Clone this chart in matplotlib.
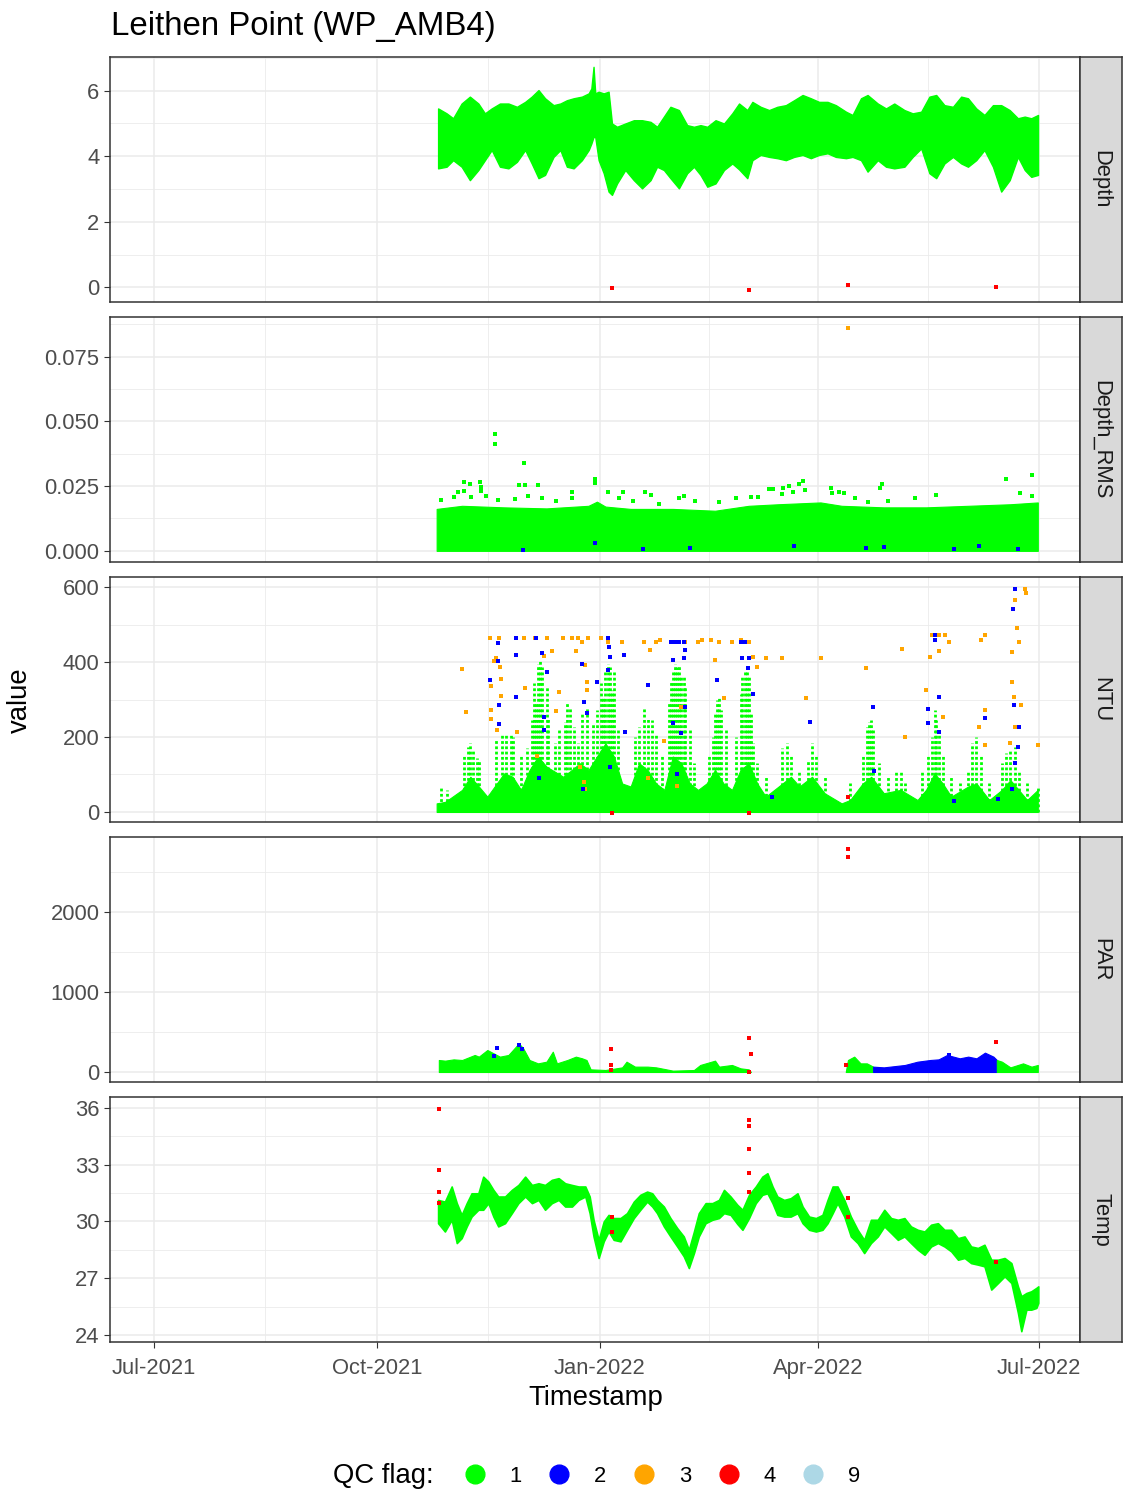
import numpy as np
import matplotlib
matplotlib.use("Agg")
import matplotlib.pyplot as plt
import matplotlib.dates as mdates
from matplotlib.lines import Line2D

plt.rcParams['font.family'] = ['Liberation Sans', 'DejaVu Sans']

# ---------------- data (x = days since 2021-10-01) ----------------
ORIGIN = '2021-10-01'
major_ticks = ['2021-07-01', '2021-10-01', '2022-01-01', '2022-04-01', '2022-07-01']
x_limits = ['2021-06-13', '2022-07-18']

# Depth envelope
depth_day = [25.3, 28.8, 31.5, 35.0, 38.4, 41.9, 44.6, 47.4, 50.8, 54.3,
             57.8, 61.2, 63.9, 66.7, 69.4, 72.9, 75.7, 78.4, 81.2, 84.6,
             87.4, 88.5, 89.4, 90.1, 91.5, 93.6, 95.6, 97.0, 99.1, 102.5,
             106.0, 109.4, 112.9, 115.6, 118.4, 121.1, 124.6, 128.0, 130.8, 133.5,
             136.3, 139.7, 143.2, 146.6, 149.4, 152.8, 154.9, 158.3, 161.8, 165.2,
             168.7, 172.1, 175.6, 179.0, 182.4, 185.9, 189.3, 193.5, 196.2, 199.7,
             202.4, 206.6, 210.0, 213.4, 217.6, 221.0, 224.5, 227.9, 230.7, 234.1,
             237.6, 241.0, 243.8, 247.2, 250.6, 254.1, 257.5, 261.0, 264.4, 267.2,
             269.9, 272.7]
depth_hi = [5.46, 5.31, 5.16, 5.61, 5.82, 5.61, 5.31, 5.46, 5.61, 5.61,
            5.51, 5.66, 5.82, 6.02, 5.77, 5.56, 5.61, 5.71, 5.77, 5.82,
            5.92, 6.07, 6.73, 5.92, 5.97, 5.92, 5.97, 5.00, 4.90, 5.00,
            5.10, 5.10, 5.05, 4.90, 5.21, 5.51, 5.41, 4.95, 4.90, 4.95,
            4.90, 5.10, 5.00, 5.31, 5.61, 5.41, 5.66, 5.51, 5.41, 5.51,
            5.56, 5.71, 5.87, 5.77, 5.66, 5.66, 5.56, 5.36, 5.26, 5.77,
            5.87, 5.61, 5.46, 5.61, 5.41, 5.31, 5.36, 5.82, 5.87, 5.56,
            5.51, 5.82, 5.77, 5.46, 5.26, 5.56, 5.56, 5.41, 5.16, 5.21,
            5.16, 5.26]
depth_lo = [3.63, 3.68, 3.88, 3.68, 3.27, 3.58, 3.88, 4.19, 3.68, 3.63,
            3.83, 4.19, 3.78, 3.33, 3.43, 3.98, 4.19, 3.68, 3.63, 3.88,
            4.19, 4.39, 4.59, 4.59, 3.88, 3.48, 2.92, 2.82, 3.17, 3.58,
            3.27, 3.02, 3.27, 3.68, 3.58, 3.33, 3.02, 3.48, 3.68, 3.43,
            3.07, 3.17, 3.58, 3.78, 3.60, 3.33, 3.88, 4.04, 3.98, 3.94,
            3.88, 3.98, 4.04, 3.94, 4.04, 4.09, 3.98, 3.94, 3.98, 3.88,
            3.53, 3.88, 3.68, 3.63, 3.68, 3.98, 4.24, 3.48, 3.33, 3.78,
            3.98, 3.78, 3.68, 3.88, 4.19, 3.68, 2.92, 3.27, 3.98, 3.58,
            3.37, 3.43]
depth_red_day = [96.9, 153.4, 194.3, 255.2]
depth_red_val = [-0.02, -0.08, 0.08, 0.01]

# Depth_RMS
rms_day = [24.7, 35.2, 52.5, 70.0, 87.3, 90.8, 94.3, 104.7, 122.1, 139.5,
           153.4, 165.6, 183.0, 191.7, 209.1, 226.5, 243.9, 261.3, 272.6]
rms_hi = [0.0162, 0.0174, 0.0168, 0.0164, 0.0174, 0.0190, 0.0171, 0.0162, 0.0162, 0.0155,
          0.0174, 0.0180, 0.0187, 0.0174, 0.0168, 0.0168, 0.0174, 0.0180, 0.0187]
rms_green_day = [48.7, 48.7, 60.7, 36.0, 38.5, 42.6, 58.5, 61.2, 66.5, 90.1, 90.1, 33.4,
                 35.9, 42.8, 43.0, 80.5, 95.2, 101.4, 110.5, 113.1, 126.6, 161.8, 163.5,
                 167.5, 170.1, 174.0, 175.7, 176.7, 187.3, 187.9, 190.5, 192.5, 207.5,
                 208.4, 230.6, 259.3, 270.1, 265.1, 270.3, 221.8, 197.1, 202.5, 210.8,
                 148.2, 154.5, 157.2, 167.2, 171.7, 141.2, 131.3, 124.7, 116.4, 105.8,
                 100.0, 80.4, 73.9, 68.2, 62.5, 57.1, 50.0, 45.2, 38.8, 31.7, 26.5]
rms_green_val = [0.0451, 0.0412, 0.0341, 0.0265, 0.0259, 0.0265, 0.0254, 0.0256, 0.0254,
                 0.0279, 0.0263, 0.0227, 0.0231, 0.0247, 0.0232, 0.0228, 0.0228, 0.0229,
                 0.0228, 0.0217, 0.0210, 0.0240, 0.0237, 0.0242, 0.0249, 0.0259, 0.0268,
                 0.0234, 0.0241, 0.0225, 0.0228, 0.0222, 0.0244, 0.0260, 0.0215, 0.0277,
                 0.0292, 0.0225, 0.0213, 0.0205, 0.0206, 0.0190, 0.0192, 0.0205, 0.0207,
                 0.0207, 0.0220, 0.0228, 0.0189, 0.0194, 0.0206, 0.0182, 0.0194, 0.0204,
                 0.0206, 0.0191, 0.0205, 0.0212, 0.0200, 0.0197, 0.0213, 0.0209, 0.0209,
                 0.0196]
rms_blue_day = [60.4, 109.6, 129.0, 201.8, 209.1, 238.0, 248.5, 264.5, 90.0, 172.0]
rms_blue_val = [0.0005, 0.0008, 0.0012, 0.0010, 0.0015, 0.0008, 0.0020, 0.0006, 0.0030, 0.0018]
rms_orange_day = [194.3]
rms_orange_val = [0.0862]

# NTU
ntu_day = [24.7, 28.2, 35.2, 38.6, 42.1, 45.6, 52.5, 56.0, 59.5, 63.0,
           66.5, 70.0, 76.9, 80.4, 83.8, 87.3, 90.8, 94.3, 97.8, 101.2,
           104.7, 108.2, 111.7, 115.2, 118.6, 122.1, 125.6, 129.1, 132.5, 136.0,
           139.5, 143.0, 146.5, 150.0, 153.4, 156.9, 160.4, 167.3, 170.8, 174.3,
           179.5, 184.7, 191.7, 195.2, 200.4, 203.9, 209.1, 216.0, 223.0, 226.5,
           230.0, 233.4, 236.9, 243.9, 247.3, 252.6, 257.8, 261.3, 264.7, 268.2, 272.6]
ntu_base = [23, 27, 59, 94, 68, 41, 103, 94, 59, 112,
            148, 121, 94, 112, 130, 112, 148, 183, 148, 76,
            68, 130, 112, 76, 59, 148, 130, 76, 59, 76,
            112, 76, 59, 112, 130, 76, 41, 76, 94, 68,
            94, 50, 23, 32, 76, 94, 50, 59, 32, 59,
            103, 76, 41, 68, 76, 32, 59, 85, 59, 32, 59]
ntu_col_day = [26.5, 29.1, 36.0, 37.8, 38.6, 39.5, 41.2, 42.1, 49.1, 51.7, 53.4, 55.2, 56.0,
               59.5, 62.1, 63.9, 64.7, 65.6, 66.5, 67.3, 68.2, 70.0, 70.8, 73.4, 75.2, 77.8,
               78.6, 79.5, 81.3, 83.0, 84.7, 86.5, 89.1, 90.8, 92.5, 93.4, 94.3, 95.2, 96.0,
               96.9, 97.8, 99.5, 106.5, 108.2, 110.0, 111.7, 113.4, 115.2, 117.8, 120.4,
               121.2, 122.1, 123.0, 123.9, 124.7, 125.6, 126.5, 127.3, 129.1, 130.8, 136.9,
               138.6, 139.5, 140.4, 141.2, 142.1, 143.9, 148.2, 150.0, 150.8, 151.7, 152.5,
               153.4, 154.3, 155.2, 156.9, 160.4, 167.3, 169.1, 170.8, 174.3, 177.8, 179.5,
               181.2, 184.7, 195.2, 200.4, 202.1, 203.0, 203.9, 204.7, 207.3, 210.8, 214.3,
               216.0, 217.8, 224.7, 227.3, 229.1, 230.0, 230.8, 231.7, 233.4, 236.9, 240.4,
               243.9, 245.6, 247.3, 249.1, 252.6, 257.8, 259.5, 261.3, 263.0, 264.7, 268.2, 272.6]
ntu_col_max = [63, 59, 148, 174, 183, 165, 143, 139, 192, 205, 210, 205, 201,
               148, 170, 245, 343, 294, 396, 405, 388, 334, 254, 183, 219, 241,
               290, 281, 227, 183, 263, 281, 236, 272, 343, 308, 379, 396, 388,
               325, 379, 219, 201, 227, 281, 254, 245, 210, 148, 290,
               352, 379, 396, 388, 392, 361, 361, 334, 219, 130, 148,
               201, 263, 299, 308, 272, 219, 201, 316, 361, 374, 388,
               361, 263, 183, 130, 94, 170, 183, 148, 112, 139, 183,
               148, 94, 76, 148, 227, 241, 245, 219, 130, 94, 112,
               112, 76, 112, 148, 201, 272, 245, 219, 148, 94, 76,
               112, 183, 201, 148, 76, 130, 156, 165, 174, 112, 76, 63]
ntu_orange_day = [35.2, 36.9, 46.5, 47.3, 48.2, 49.1, 50.3, 50.8, 51.2, 51.3, 49.4, 47.3,
                  47.3, 57.8, 60.9, 61.2, 65.2, 69.1, 70.0, 72.2, 73.9, 75.2, 76.9, 80.4,
                  82.1, 83.0, 84.7, 85.9, 86.5, 86.5, 87.3, 92.5, 95.2, 101.2, 110.0, 112.5,
                  115.2, 116.9, 118.6, 122.1, 125.6, 127.3, 132.5, 134.3, 137.8, 139.5, 141.2,
                  143.0, 146.5, 150.0, 153.4, 155.2, 156.9, 160.4, 167.3, 176.9, 183.0, 201.8,
                  216.5, 217.8, 226.5, 228.2, 229.1, 231.7, 234.3, 236.0, 231.7, 233.4, 249.1,
                  250.8, 250.8, 248.2, 250.8, 262.1, 263.0, 263.9, 264.7, 265.6, 267.4, 267.7,
                  262.7, 263.0, 261.3, 272.6, 262.1, 84.0, 85.5, 86.0, 66.0, 112.0, 124.0]
ntu_orange_val = [381, 266, 463, 336, 404, 410, 463, 386, 356, 310, 219, 272,
                  248, 212, 463, 331, 463, 416, 463, 429, 269, 321, 463, 463,
                  430, 463, 454, 392, 325, 347, 463, 463, 454, 454, 454, 432,
                  454, 459, 190, 454, 281, 454, 454, 459, 459, 405, 454,
                  303, 454, 459, 454, 414, 388, 412, 412, 303, 412, 383,
                  436, 201, 325, 414, 472, 472, 472, 454, 430, 254, 459,
                  472, 272, 227, 179, 347, 565, 490, 454, 285, 596, 583,
                  307, 227, 183, 179, 427, 120, 80, 60, 150, 90, 70]
ntu_blue_day = [46.8, 50.1, 50.1, 50.3, 50.3, 57.4, 57.4, 57.6, 65.6, 68.2, 70.0, 69.1,
                69.1, 84.7, 85.6, 86.5, 90.8, 95.2, 95.7, 96.0, 95.2, 102.1, 102.5, 111.7,
                121.2, 123.0, 124.7, 126.5, 127.3, 122.1, 126.5, 127.3, 122.1, 125.6, 140.4,
                150.0, 151.7, 150.8, 153.4, 153.1, 155.2, 178.6, 204.7, 230.3, 230.3, 231.7,
                227.3, 227.3, 232.0, 250.8, 263.0, 262.5, 262.7, 264.7, 264.4, 263.0,
                67.0, 85.0, 96.0, 124.0, 163.0, 205.0, 238.0, 256.0, 262.0]
ntu_blue_val = [352, 452, 403, 285, 235, 463, 419, 308, 463, 423, 374, 254,
                219, 396, 294, 263, 347, 463, 441, 414, 379, 419, 212, 340,
                454, 454, 454, 454, 432, 405, 410, 281, 236, 210, 352,
                454, 454, 412, 412, 383, 316, 241, 281, 472, 459, 308,
                274, 236, 214, 250, 596, 541, 284, 226, 174, 130,
                90, 60, 120, 100, 40, 110, 30, 35, 60]
ntu_red_day = [96.9, 153.4, 194.3]
ntu_red_val = [-2, -2, 41]

# PAR
par1_day = [25.6, 28.2, 31.7, 35.2, 40.4, 42.1, 45.6, 48.2, 50.8, 54.3, 58.6, 60.4, 63.0,
            66.5, 70.0, 72.6, 74.3, 78.6, 82.1, 84.7, 86.5, 88.2, 94.3, 101.2, 103.0,
            106.5, 111.7, 115.2, 118.6, 122.1, 130.8, 133.4, 139.5, 141.2, 146.5, 150.0,
            153.4, 154.3]
par1_val = [150, 142, 158, 150, 213, 192, 275, 233, 192, 213, 358, 296, 150,
            108, 129, 254, 108, 150, 192, 171, 150, 33, 25, 58, 129,
            67, 67, 58, 38, 17, 25, 88, 142, 67, 88, 46,
            33, 0]
par2_day = [193.4, 194.3, 196.9, 199.5, 202.1, 204.7]
par2_val = [0, 150, 192, 108, 108, 67]
par_blue_day = [204.7, 209.1, 217.8, 223.0, 228.2, 231.7, 235.2, 240.4, 243.9, 247.3,
                250.8, 254.3, 255.7]
par_blue_val = [67, 58, 88, 129, 150, 158, 213, 171, 192, 171, 242, 192, 150]
par3_day = [255.7, 257.8, 261.3, 266.5, 270.0, 272.6]
par3_val = [150, 129, 58, 108, 67, 88]
par_blue_pt_day = [49.4, 58.5, 60.0, 48.2, 235.9]
par_blue_pt_val = [304, 333, 288, 200, 213]
par_red_day = [96.5, 96.5, 96.5, 153.4, 154.3, 153.4, 194.3, 194.3, 255.2, 193.4]
par_red_val = [288, 84, 25, 421, 225, 5, 2788, 2683, 371, 84]

# Temp envelope
temp_day = [25.3, 28.1, 30.9, 33.0, 35.0, 37.1, 39.1, 41.9, 43.9, 46.0,
            48.1, 50.1, 52.9, 55.7, 58.4, 61.2, 64.0, 66.7, 69.4, 72.2,
            75.0, 77.7, 80.5, 83.2, 86.0, 87.8, 89.4, 91.5, 93.6, 95.6,
            97.7, 100.5, 103.2, 106.0, 108.7, 111.5, 113.6, 115.6, 118.4, 121.1,
            123.9, 126.6, 128.7, 130.8, 132.8, 135.6, 138.4, 141.1, 143.2, 145.9,
            148.7, 150.8, 153.5, 156.3, 159.0, 161.1, 163.2, 165.2, 168.0, 170.7,
            173.5, 175.6, 178.3, 181.1, 183.8, 185.9, 188.0, 190.0, 192.8, 195.5,
            198.3, 201.0, 203.8, 206.6, 209.3, 212.1, 214.9, 217.6, 220.3, 223.1,
            225.9, 228.6, 231.4, 234.1, 236.9, 239.7, 242.4, 245.1, 247.9, 250.6,
            253.4, 256.2, 258.9, 261.7, 264.4, 265.8, 267.9, 269.9, 272.0, 272.8]
temp_hi = [31.14, 31.05, 31.85, 30.97, 30.35, 30.97, 31.49, 31.49, 32.37, 32.11,
           31.67, 31.32, 31.32, 31.67, 31.93, 32.37, 31.93, 32.02, 31.93, 32.20,
           32.29, 32.02, 31.93, 31.85, 31.85, 31.32, 30.09, 29.03, 30.00, 30.35,
           30.18, 30.18, 30.44, 31.05, 31.41, 31.58, 31.49, 31.14, 30.79, 30.18,
           29.65, 29.21, 28.51, 29.47, 30.44, 30.97, 30.97, 31.14, 31.67, 31.32,
           30.88, 30.62, 31.41, 31.85, 32.37, 32.55, 31.85, 31.32, 31.14, 31.23,
           31.49, 30.79, 30.26, 30.18, 30.35, 31.14, 31.85, 31.85, 31.14, 30.26,
           29.56, 29.03, 30.09, 30.09, 30.62, 30.18, 30.09, 30.18, 29.74, 29.56,
           29.47, 29.83, 29.91, 29.56, 29.56, 29.12, 29.21, 28.68, 28.60, 28.77,
           27.98, 27.98, 28.07, 27.80, 26.57, 26.05, 26.22, 26.31, 26.49, 26.57]
temp_lo = [29.91, 29.47, 30.09, 28.86, 29.12, 29.74, 30.26, 30.62, 30.62, 30.97,
           30.26, 29.74, 29.91, 30.44, 30.97, 31.32, 30.97, 31.14, 30.62, 30.97,
           31.14, 30.79, 30.79, 31.14, 31.32, 30.44, 29.21, 28.07, 28.95, 29.47,
           29.03, 28.95, 29.56, 30.18, 30.62, 31.05, 30.79, 30.44, 29.74, 29.21,
           28.68, 28.16, 27.54, 28.33, 29.21, 29.91, 30.09, 30.18, 30.44, 30.35,
           29.87, 29.56, 30.18, 30.97, 31.41, 31.49, 30.97, 30.35, 30.26, 30.26,
           30.44, 29.91, 29.56, 29.47, 29.56, 29.91, 30.44, 30.97, 30.26, 29.21,
           28.86, 28.33, 28.86, 29.21, 29.74, 29.39, 29.03, 29.21, 28.86, 28.51,
           28.24, 28.68, 28.86, 28.68, 28.42, 27.98, 28.07, 27.80, 27.72, 27.63,
           26.40, 26.75, 27.10, 26.75, 25.17, 24.20, 25.34, 25.34, 25.43, 25.70]
temp_red_day = [25.6, 25.6, 25.6, 25.6, 153.4, 153.4, 153.4, 153.4, 153.4, 96.9, 96.9,
                194.3, 194.3, 255.2]
temp_red_val = [35.96, 32.70, 31.58, 30.96, 35.36, 35.05, 33.81, 32.58, 31.58, 29.43, 30.25,
                31.22, 30.25, 27.84]

panels = ['Depth', 'Depth_RMS', 'NTU', 'PAR', 'Temp']
y_limits = [(-0.45, 7.03), (-0.0043, 0.0903), (-26.7, 626.7), (-125, 2937.5), (23.63, 36.58)]
y_major = [[0, 2, 4, 6], [0.0, 0.025, 0.05, 0.075], [0, 200, 400, 600],
           [0, 1000, 2000], [24, 27, 30, 33, 36]]
y_labels = [['0', '2', '4', '6'], ['0.000', '0.025', '0.050', '0.075'],
            ['0', '200', '400', '600'], ['0', '1000', '2000'],
            ['24', '27', '30', '33', '36']]
y_minor = [[1, 3, 5, 7], [0.0125, 0.0375, 0.0625, 0.0875], [100, 300, 500],
           [500, 1500, 2500], [25.5, 28.5, 31.5, 34.5]]

qc_flags = ['1', '2', '3', '4', '9']
qc_colors = ['#00FF00', '#0000FF', '#FFA500', '#FF0000', '#ADD8E6']

# ---------------- drawing ----------------
W, H = 1123, 1492
fig = plt.figure(figsize=(W / 100, H / 100), dpi=100)
origin_num = mdates.date2num(np.datetime64(ORIGIN))


def dn(days):
    return origin_num + np.asarray(days, dtype=float)


GREEN, BLUE, ORANGE, RED = qc_colors[0], qc_colors[1], qc_colors[2], qc_colors[3]
MS = 6
panel_tops = [57, 317, 577, 837, 1097]
panel_h = 245
left_px, right_px, strip_w = 110, 1080, 42

major_num = mdates.date2num(np.array(major_ticks, dtype='datetime64[D]'))
minor_num = (major_num[:-1] + major_num[1:]) / 2.0
xlim_num = mdates.date2num(np.array(x_limits, dtype='datetime64[D]'))

axes = []
for i, name in enumerate(panels):
    top = panel_tops[i]
    ax = fig.add_axes([left_px / W, 1 - (top + panel_h) / H,
                       (right_px - left_px) / W, panel_h / H])
    axes.append(ax)
    ax.set_xlim(*xlim_num)
    ax.set_ylim(*y_limits[i])
    ax.set_xticks(major_num)
    ax.set_xticks(minor_num, minor=True)
    ax.set_yticks(y_major[i])
    ax.set_yticklabels(y_labels[i])
    ax.set_yticks(y_minor[i], minor=True)
    ax.grid(which='major', color='#EBEBEB', linewidth=1.15, zorder=0)
    ax.grid(which='minor', color='#EBEBEB', linewidth=0.6, zorder=0)
    ax.set_axisbelow(True)
    for sp in ax.spines.values():
        sp.set_color('#333333')
        sp.set_linewidth(1.1)
    ax.tick_params(which='major', length=4.5, width=0.8, color='#333333',
                   labelsize=15.8, labelcolor='#4D4D4D', pad=3)
    ax.tick_params(axis='x', which='major', pad=7)
    ax.tick_params(which='minor', length=0)
    if i < len(panels) - 1:
        ax.tick_params(axis='x', which='both', length=0, labelbottom=False)
    else:
        ax.xaxis.set_major_formatter(mdates.DateFormatter('%b-%Y'))
    # strip
    sax = fig.add_axes([right_px / W, 1 - (top + panel_h) / H, strip_w / W, panel_h / H])
    sax.set_facecolor('#D9D9D9')
    sax.set_xticks([])
    sax.set_yticks([])
    for sp in sax.spines.values():
        sp.set_color('#333333')
        sp.set_linewidth(1.1)
    sax.text(0.5, 0.5, name, rotation=270, ha='center', va='center',
             fontsize=15.8, color='#1A1A1A', transform=sax.transAxes)

# Depth
ax = axes[0]
ax.fill_between(dn(depth_day), depth_lo, depth_hi, color=GREEN, lw=1.0, zorder=2)
ax.scatter(dn(depth_red_day), depth_red_val, s=MS, marker='s', color=RED, lw=0, zorder=3)

# Depth_RMS
ax = axes[1]
ax.fill_between(dn(rms_day), 0, rms_hi, color=GREEN, lw=0.8, zorder=2)
ax.scatter(dn(rms_green_day), rms_green_val, s=MS, marker='s', color=GREEN, lw=0, zorder=3)
ax.scatter(dn(rms_blue_day), rms_blue_val, s=MS, marker='s', color=BLUE, lw=0, zorder=4)
ax.scatter(dn(rms_orange_day), rms_orange_val, s=MS, marker='s', color=ORANGE, lw=0, zorder=4)

# NTU
ax = axes[2]
ax.fill_between(dn(ntu_day), 0, ntu_base, color=GREEN, lw=0.8, zorder=2)
ax.vlines(dn(ntu_col_day), 0, ntu_col_max, colors=GREEN, linewidth=2.0,
          linestyles=(0, (1.0, 0.9)), zorder=2)
ax.scatter(dn(ntu_orange_day), ntu_orange_val, s=MS, marker='s', color=ORANGE, lw=0, zorder=3)
ax.scatter(dn(ntu_blue_day), ntu_blue_val, s=MS, marker='s', color=BLUE, lw=0, zorder=4)
ax.scatter(dn(ntu_red_day), ntu_red_val, s=MS, marker='s', color=RED, lw=0, zorder=4)

# PAR
ax = axes[3]
ax.fill_between(dn(par1_day), 0, par1_val, color=GREEN, lw=0.8, zorder=2)
ax.fill_between(dn(par2_day), 0, par2_val, color=GREEN, lw=0.8, zorder=2)
ax.fill_between(dn(par_blue_day), 0, par_blue_val, color=BLUE, lw=0.8, zorder=2)
ax.fill_between(dn(par3_day), 0, par3_val, color=GREEN, lw=0.8, zorder=2)
ax.scatter(dn(par_blue_pt_day), par_blue_pt_val, s=MS, marker='s', color=BLUE, lw=0, zorder=3)
ax.scatter(dn(par_red_day), par_red_val, s=MS, marker='s', color=RED, lw=0, zorder=4)

# Temp
ax = axes[4]
ax.fill_between(dn(temp_day), temp_lo, temp_hi, color=GREEN, lw=1.2, zorder=2)
ax.scatter(dn(temp_red_day), temp_red_val, s=MS, marker='s', color=RED, lw=0, zorder=3)

# Texts
fig.text(111 / W, 1 - 27 / H, 'Leithen Point (WP_AMB4)', fontsize=23.8,
         ha='left', va='center', color='black')
fig.text(20 / W, 1 - 700 / H, 'value', fontsize=19.8, rotation=90,
         ha='center', va='center', color='black')
fig.text(596 / W, 1 - 1398 / H, 'Timestamp', fontsize=19.8,
         ha='center', va='center', color='black')
fig.text(333 / W, 1 - 1476 / H, 'QC flag:', fontsize=19.8,
         ha='left', va='center', color='black')

handles = [Line2D([], [], marker='o', linestyle='none', markersize=13.5,
                  markerfacecolor=c, markeredgecolor=c) for c in qc_colors]
fig.legend(handles, qc_flags, loc='center', bbox_to_anchor=(662 / W, 1 - 1476 / H),
           ncol=5, frameon=False, fontsize=15.8, handlelength=1.0,
           handletextpad=1.1, columnspacing=1.2, borderpad=0, borderaxespad=0)

fig.savefig('out.png', dpi=100, facecolor='white')
